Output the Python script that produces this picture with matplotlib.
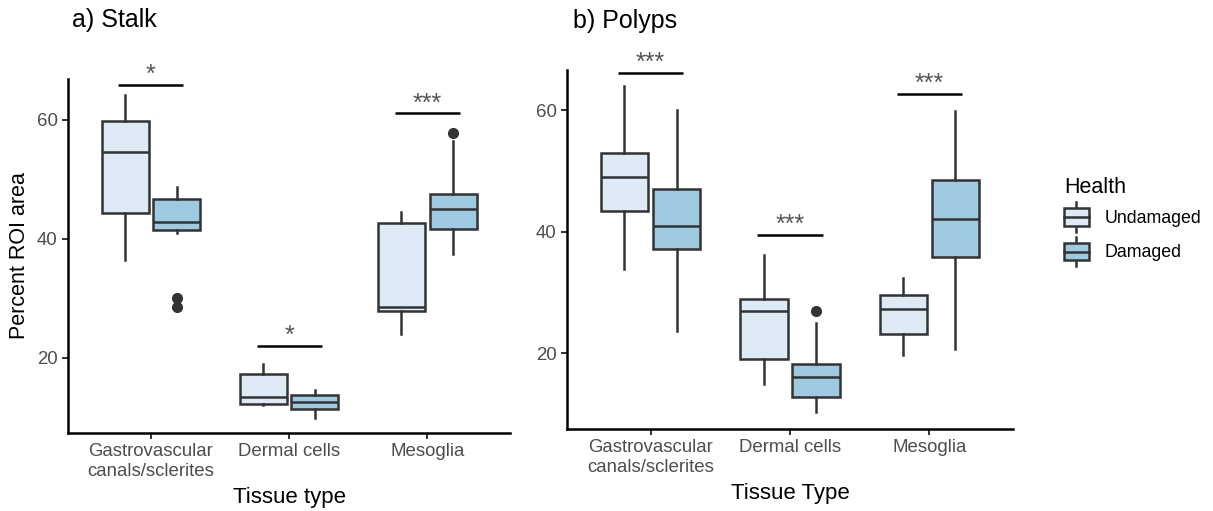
import matplotlib
matplotlib.use("Agg")
import matplotlib.pyplot as plt
from matplotlib.legend_handler import HandlerBase
from matplotlib.patches import Rectangle, Patch
from matplotlib.lines import Line2D

plt.rcParams['font.family'] = ['Liberation Sans', 'DejaVu Sans']

tissues = ["Gastrovascular\ncanals/sclerites", "Dermal cells", "Mesoglia"]
health = ["Undamaged", "Damaged"]
colors = {"Undamaged": "#deebf7", "Damaged": "#9ecae1"}

# box stats per tissue: (whislo, q1, med, q3, whishi, fliers)
stalk_undamaged = [(36.5, 44.3, 54.6, 59.9, 64.2, []),
                   (12.0, 12.2, 13.3, 17.3, 18.9, []),
                   (23.9, 27.9, 28.6, 42.6, 44.5, [])]
stalk_damaged = [(41.0, 41.5, 42.9, 46.7, 48.8, [30.0, 28.6]),
                 (9.9, 11.3, 12.6, 13.7, 14.6, []),
                 (37.5, 41.7, 45.0, 47.6, 56.4, [57.8])]
polyp_undamaged = [(33.8, 43.4, 49.0, 53.0, 64.0, []),
                   (14.9, 19.1, 27.0, 28.9, 36.2, []),
                   (19.6, 23.1, 27.2, 29.5, 32.3, [])]
polyp_damaged = [(23.7, 37.1, 41.0, 47.0, 60.0, []),
                 (10.3, 12.8, 16.1, 18.2, 25.0, [26.9]),
                 (20.7, 35.8, 42.1, 48.5, 59.9, [])]

stalk_sig = ["*", "*", "***"]
stalk_sig_y = [65.9, 22.0, 61.1]
polyp_sig = ["***", "***", "***"]
polyp_sig_y = [66.1, 39.4, 62.7]

EDGE = "#333333"
LW = 1.8


def to_stats(rows):
    out = []
    for lo, q1, med, q3, hi, fl in rows:
        out.append(dict(whislo=lo, q1=q1, med=med, q3=q3, whishi=hi, fliers=fl))
    return out


def draw_panel(ax, und, dam, sig, sig_y, ylim, xlabel, ylabel=None):
    offs = 0.1875
    width = 0.34
    for rows, name, d in [(und, "Undamaged", -offs), (dam, "Damaged", offs)]:
        pos = [i + 1 + d for i in range(len(tissues))]
        ax.bxp(to_stats(rows), positions=pos, widths=width, patch_artist=True,
               showcaps=False,
               boxprops=dict(facecolor=colors[name], edgecolor=EDGE, linewidth=LW),
               medianprops=dict(color=EDGE, linewidth=LW),
               whiskerprops=dict(color=EDGE, linewidth=LW),
               flierprops=dict(marker='o', markerfacecolor=EDGE, markeredgecolor=EDGE,
                               markersize=7))
    for i, (s, y) in enumerate(zip(sig, sig_y)):
        x = i + 1
        ax.plot([x - 0.235, x + 0.235], [y, y], color="black", lw=1.8, solid_capstyle='butt')
        ax.text(x, y + 0.5, s, ha='center', va='baseline', fontsize=18, color="#555555")
    ax.set_xlim(0.4, 3.6)
    ax.set_ylim(*ylim)
    ax.set_yticks([20, 40, 60])
    ax.set_xticks([1, 2, 3])
    ax.set_xticklabels(tissues)
    for sp in ["top", "right"]:
        ax.spines[sp].set_visible(False)
    for sp in ["left", "bottom"]:
        ax.spines[sp].set_linewidth(1.8)
        ax.spines[sp].set_color("black")
    ax.tick_params(axis='both', length=4, width=1.4, color="#333333",
                   labelcolor="#4d4d4d", labelsize=13.4)
    ax.set_xlabel(xlabel, fontsize=16, color="black", labelpad=5)
    if ylabel:
        ax.set_ylabel(ylabel, fontsize=15.5, color="black", labelpad=5)


class BoxHandler(HandlerBase):
    def create_artists(self, legend, orig_handle, xdescent, ydescent,
                       width, height, fontsize, trans):
        fc = orig_handle.get_facecolor()
        x0, y0 = -xdescent, -ydescent
        bh = height * 0.6
        by = y0 + (height - bh) / 2
        cx = x0 + width / 2
        wl = Line2D([cx, cx], [y0, y0 + height], color=EDGE, lw=LW, transform=trans)
        box = Rectangle((x0, by), width, bh, facecolor=fc, edgecolor=EDGE, lw=LW,
                        transform=trans)
        med = Line2D([x0, x0 + width], [y0 + height / 2] * 2, color=EDGE, lw=LW,
                     transform=trans)
        return [wl, box, med]


fig = plt.figure(figsize=(12.13, 5.11), dpi=100)
ax1 = fig.add_axes([0.0561, 0.1526, 0.3644, 0.6928])
ax2 = fig.add_axes([0.4674, 0.1605, 0.3677, 0.7025])

draw_panel(ax1, stalk_undamaged, stalk_damaged, stalk_sig, stalk_sig_y,
           (7.3, 66.9), "Tissue type", "Percent ROI area")
draw_panel(ax2, polyp_undamaged, polyp_damaged, polyp_sig, polyp_sig_y,
           (7.5, 66.6), "Tissue Type")

fig.text(72 / 1213, 1 - 20 / 511, "a) Stalk", fontsize=18, ha='left', va='center')
fig.text(573 / 1213, 1 - 21 / 511, "b) Polyps", fontsize=18, ha='left', va='center')

handles = [Patch(facecolor=colors[h]) for h in health]
leg = fig.legend(handles, health, title="Health", loc='upper left',
                 bbox_to_anchor=(1048 / 1213, 1 - 161 / 511), frameon=False,
                 handler_map={Patch: BoxHandler()}, fontsize=12.8,
                 title_fontsize=15.5, handlelength=1.4, handleheight=2.2,
                 labelspacing=0.25, handletextpad=0.9)
leg._legend_box.align = "left"

fig.savefig("out.png", dpi=100, facecolor="white")
